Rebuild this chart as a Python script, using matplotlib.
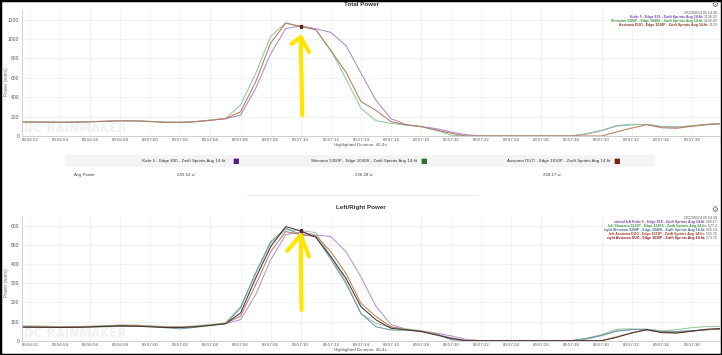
import matplotlib
matplotlib.use("Agg")
import matplotlib.pyplot as plt
from matplotlib.patches import Rectangle

plt.rcParams['font.family'] = ['Liberation Sans', 'DejaVu Sans']

# seconds after 00:56:00
seconds = list(range(51, 99))

# Total Power (watts)
kickr_total = [146, 145, 144, 142, 144, 148, 153, 157, 156, 150, 143, 142, 149, 163, 178,
               215, 489, 849, 1107, 1138, 1107, 1069, 935, 650, 368, 179, 118, 98, 76, 41, 14,
               0, 0, 0, 0, 0, 0, 0, 20, 55, 103, 117, 120, 98, 93, 103, 118, 128]
shimano_total = [147, 146, 145, 143, 143, 147, 152, 158, 157, 151, 142, 141, 148, 165, 182,
                 320, 643, 1028, 1165, 1132, 1097, 886, 592, 286, 158, 130, 112, 96, 60, 8, 0,
                 0, 0, 0, 0, 0, 0, 0, 25, 58, 108, 120, 118, 95, 93, 105, 122, 130]
assioma_total = [145, 144, 143, 141, 143, 146, 151, 156, 155, 149, 141, 140, 147, 162, 179,
                 250, 557, 959, 1165, 1129, 1097, 880, 660, 355, 265, 148, 115, 97, 62, 28, 0,
                 0, 0, 0, 0, 0, 0, 0, 0, 0, 41, 82, 117, 85, 80, 100, 117, 127]

# Left/Right Power (watts)
kickr_vleft = [73, 72, 72, 71, 72, 74, 77, 79, 78, 75, 72, 71, 75, 82, 89,
               110, 240, 423, 555, 569, 553, 545, 466, 335, 180, 85, 60, 50, 40, 25, 7,
               0, 0, 0, 0, 0, 0, 0, 8, 26, 52, 58, 60, 50, 48, 52, 58, 62]
shimano_left = [78, 77, 76, 74, 74, 76, 79, 83, 82, 78, 74, 73, 77, 85, 93,
                178, 350, 509, 580, 577, 565, 440, 309, 143, 91, 70, 62, 53, 38, 8, 0,
                0, 0, 0, 0, 0, 0, 0, 12, 32, 60, 62, 60, 52, 58, 68, 74, 75]
shimano_right = [69, 69, 69, 69, 69, 71, 73, 75, 75, 73, 68, 62, 70, 80, 89,
                 171, 355, 518, 588, 555, 545, 426, 300, 143, 73, 56, 55, 49, 35, 5, 0,
                 0, 0, 0, 0, 0, 0, 0, 12, 28, 50, 58, 58, 48, 48, 52, 58, 60]
assioma_left = [74, 73, 73, 72, 73, 74, 76, 80, 79, 76, 72, 71, 74, 82, 90,
                129, 292, 466, 571, 555, 550, 466, 353, 196, 126, 73, 58, 50, 33, 15, 0,
                0, 0, 0, 0, 0, 0, 0, 0, 0, 20, 42, 56, 45, 42, 50, 57, 62]
assioma_right = [71, 71, 70, 69, 70, 72, 75, 77, 76, 73, 69, 69, 73, 80, 89,
                 145, 327, 492, 597, 574, 541, 440, 327, 178, 109, 65, 57, 48, 30, 12, 0,
                 0, 0, 0, 0, 0, 0, 0, 0, 0, 18, 40, 58, 42, 40, 50, 60, 64]

files = ["Kickr 5 - Edge 830 - Zwift Sprints Aug 14.fit",
         "Shimano 5200P - Edge 1040S - Zwift Sprints Aug 14.fit",
         "Assioma DUO - Edge 1030P - Zwift Sprints Aug 14.fit"]
avg_power = ["249.52 w", "236.28 w", "228.17 w"]
top_legend_values = ["1138.33", "1132.33", "1129"]
bottom_legend_labels = ["virtual left " + files[0], "left " + files[1], "right " + files[1],
                        "left " + files[2], "right " + files[2]]
bottom_legend_values = ["569.17", "577.2", "555.13", "555.25", "573.75"]
timestamp = "2022/08/14 05:54:38"
highlight_at = 70

x_ticks = list(range(52, 97, 2))
x_labels = ["00:%02d:%02d" % (56 + s // 60, s % 60) for s in x_ticks]

W, H = 722, 355
fig = plt.figure(figsize=(W / 100, H / 100), dpi=100)
fig.patch.set_facecolor("white")


def fx(px):
    return px / W


def fy(py):
    return 1 - py / H


def setup_axes(ax, ymax, ystep):
    ax.set_xlim(51.47, 97.87)
    ax.set_ylim(0, ymax)
    ax.set_xticks(x_ticks)
    ax.set_xticklabels(x_labels)
    ax.set_yticks(range(0, ymax, ystep))
    ax.tick_params(axis="x", labelsize=3.2, colors="#555555", length=0, pad=1.5)
    ax.tick_params(axis="y", labelsize=3.6, colors="#555555", length=0, pad=2)
    ax.grid(True, color="#f0f0f0", linewidth=0.6)
    ax.set_axisbelow(True)
    for side in ["top", "right"]:
        ax.spines[side].set_visible(False)
    ax.spines["left"].set_color("#cccccc")
    ax.spines["bottom"].set_color("#c8c8c8")
    ax.spines["left"].set_linewidth(0.6)
    ax.spines["bottom"].set_linewidth(0.6)
    ax.text(0.003, 0.005, "DC RAINMAKER", transform=ax.transAxes, fontsize=8.5,
            fontweight="bold", color="#f1f1f1", family="Liberation Sans Narrow",
            va="bottom", ha="left", zorder=0)


# ---- top chart ----
ax1 = fig.add_axes([fx(22), fy(136), fx(698), 126 / H])
setup_axes(ax1, 1300, 200)
top_series = [(kickr_total, "#a98bd3"), (shimano_total, "#93c79c"), (assioma_total, "#b97a60")]
for vals, col in top_series:
    ax1.plot(seconds, vals, color=col, linewidth=0.75)
    ax1.plot(highlight_at, vals[seconds.index(highlight_at)], "s", color="#6b1d1d",
             markersize=1.3, zorder=5)

# yellow hand drawn arrow
ax1.plot([70.1, 70.0], [213, 1010], color="#ffe600", linewidth=3, solid_capstyle="round", zorder=6)
ax1.plot([69.38, 70.0, 70.55], [950, 1021, 866], color="#ffe600", linewidth=3,
         solid_capstyle="round", solid_joinstyle="round", zorder=6)

fig.text(fx(7), fy(82), "Power (watts)", rotation=90, ha="center", va="center",
         fontsize=3.3, color="#777777")
fig.text(fx(7), fy(283), "Power (watts)", rotation=90, ha="center", va="center",
         fontsize=3.3, color="#777777")
fig.text(fx(361), fy(4), "Total Power", ha="center", va="center", fontsize=4.5,
         fontweight="bold", color="#333333")
fig.text(fx(360), fy(145), "Highlighted Duration: 46.4s", ha="center", va="center",
         fontsize=3.2, color="#555555")
fig.text(fx(715), fy(4.5), "\u2699", ha="center", va="center", fontsize=5.5,
         color="#666666", family="DejaVu Sans")
fig.text(fx(715), fy(209), "\u2699", ha="center", va="center", fontsize=5.5,
         color="#666666", family="DejaVu Sans")

# ---- table ----
fig.add_artist(Rectangle((fx(65), fy(167)), fx(590), 12 / H, transform=fig.transFigure,
                         facecolor="#f4f4f4", edgecolor="none"))
square_cols = ["#5b1a8f", "#2f6b34", "#7a2410"]
header_x = [187, 367, 562]
value_x = [177, 355, 543]
for name, hx, sc in zip(files, header_x, square_cols):
    fig.text(fx(hx - 3), fy(161), name, ha="center", va="center", fontsize=3.2, color="#333333")
    fig.text(fx(hx + 3 + len(name) * 1.02), fy(161), "\u25a0", ha="center", va="center",
             fontsize=5, color=sc, family="DejaVu Sans")
fig.text(fx(74), fy(175), "Avg Power", ha="left", va="center", fontsize=3.2, color="#444444")
for v, vx in zip(avg_power, value_x):
    fig.text(fx(vx), fy(175), v, ha="left", va="center", fontsize=3.2, color="#444444")
fig.add_artist(plt.Line2D([fx(247), fx(478)], [fy(195), fy(195)], transform=fig.transFigure,
                          color="#e6e6e6", linewidth=0.6))

# ---- bottom chart ----
ax2 = fig.add_axes([fx(22), fy(340.7), fx(698), 125 / H])
setup_axes(ax2, 654, 100)
bottom_series = [(kickr_vleft, "#b394dc"), (shimano_left, "#98cba0"), (shimano_right, "#6f9aab"),
                 (assioma_left, "#bd7f63"), (assioma_right, "#4a3431")]
for vals, col in bottom_series:
    ax2.plot(seconds, vals, color=col, linewidth=0.75)
    ax2.plot(highlight_at, vals[seconds.index(highlight_at)], "s", color="#6b1d1d",
             markersize=1.3, zorder=5)
ax2.plot([70.05, 70.0], [161, 553], color="#ffe600", linewidth=3, solid_capstyle="round", zorder=6)
ax2.plot([69.1, 70.0, 70.55], [470, 553, 440], color="#ffe600", linewidth=3,
         solid_capstyle="round", solid_joinstyle="round", zorder=6)

fig.text(fx(361), fy(208), "Left/Right Power", ha="center", va="center", fontsize=4.5,
         fontweight="bold", color="#333333")
fig.text(fx(360), fy(350), "Highlighted Duration: 46.4s", ha="center", va="center",
         fontsize=3.2, color="#555555")

# ---- legends (top right of each chart) ----
renderer = fig.canvas.get_renderer()


def draw_legend(y0, labels, values, colors):
    fig.text(fx(717), fy(y0), timestamp, ha="right", va="center", fontsize=2.5, color="#555555")
    for i, (lab, val, col) in enumerate(zip(labels, values, colors)):
        yy = fy(y0 + 4.1 * (i + 1))
        t = fig.text(fx(717), yy, " " + val, ha="right", va="center", fontsize=2.5, color="#555555")
        bb = t.get_window_extent(renderer)
        fig.text(bb.x0 / W, yy, lab + ":", ha="right", va="center", fontsize=2.5,
                 fontweight="bold", color=col)


draw_legend(12.7, files, top_legend_values, ["#7a3fb0", "#3f9a3f", "#8b3a1a"])
draw_legend(217.7, bottom_legend_labels, bottom_legend_values,
            ["#7a3fb0", "#3f9a3f", "#3f6a8a", "#a0401a", "#8b1d1d"])

# black frame of the screenshot
fig.add_artist(Rectangle((0, 0), 1, 1, transform=fig.transFigure, facecolor="none",
                         edgecolor="black", linewidth=2.5))

fig.savefig("out.png", dpi=100)
